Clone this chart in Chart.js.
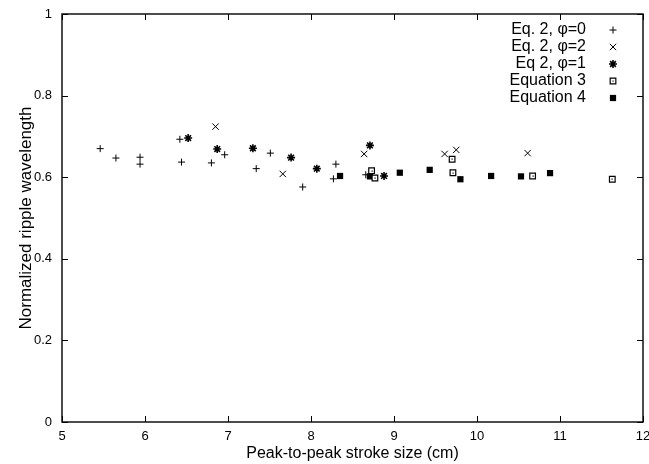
<!DOCTYPE html>
<html>
<head>
<meta charset="utf-8">
<script src="https://cdn.jsdelivr.net/npm/chart.js@4/dist/chart.umd.min.js"></script>
<style>
  html, body { margin: 0; padding: 0; background: #fff; }
  #wrap { width: 649px; height: 464px; }
</style>
</head>
<body>
<div id="wrap"><canvas id="chart"></canvas></div>
<script>
// series labels
const seriesNames = ['Eq. 2, \u03c6=0', 'Eq. 2, \u03c6=2', 'Eq 2, \u03c6=1', 'Equation 3', 'Equation 4'];

// Eq. 2, phi=0  (+)
const phi0X = [5.46, 5.65, 5.94, 5.94, 6.42, 6.44, 6.80, 6.96, 7.34, 7.51, 7.90, 8.30, 8.27, 8.66];
const phi0Y = [0.670, 0.647, 0.649, 0.632, 0.693, 0.637, 0.635, 0.655, 0.621, 0.659, 0.576, 0.632, 0.596, 0.606];

// Eq. 2, phi=2  (x)
const phi2X = [6.85, 7.66, 8.64, 9.61, 9.75, 10.61];
const phi2Y = [0.724, 0.608, 0.657, 0.657, 0.667, 0.659];

// Eq 2, phi=1  (star)
const phi1X = [6.52, 6.87, 7.30, 7.76, 8.07, 8.71, 8.88];
const phi1Y = [0.696, 0.669, 0.671, 0.648, 0.621, 0.678, 0.603];

// Equation 3  (open box)
const eq3X = [8.73, 8.77, 9.70, 9.71, 10.67, 11.63];
const eq3Y = [0.616, 0.598, 0.644, 0.611, 0.603, 0.595];

// Equation 4  (filled box)
const eq4X = [8.35, 8.71, 9.07, 9.43, 9.80, 10.17, 10.53, 10.88];
const eq4Y = [0.603, 0.602, 0.611, 0.618, 0.595, 0.603, 0.602, 0.610];

// axis ticks
const xTicks = [5, 6, 7, 8, 9, 10, 11, 12];
const yTicks = [0, 0.2, 0.4, 0.6, 0.8, 1];
const yTickLabels = ['0', '0.2', '0.4', '0.6', '0.8', '1'];

const FONT = '"Liberation Sans", Arial, Helvetica, sans-serif';

function pts(xs, ys) {
  return xs.map((x, i) => ({ x: x, y: ys[i] }));
}

const markStyles = [
  { pointStyle: 'cross', radius: 3.5, bg: '#000', border: '#000', bw: 1 },
  { pointStyle: 'crossRot', radius: 4.5, bg: '#000', border: '#000', bw: 1 },
  { pointStyle: 'star', radius: 4, bg: '#000', border: '#000', bw: 1.6 },
  { pointStyle: 'rect', radius: 4, bg: '#fff', border: '#000', bw: 1.2 },
  { pointStyle: 'rect', radius: 4.4, bg: '#000', border: '#000', bw: 0 }
];

const seriesData = [
  pts(phi0X, phi0Y),
  pts(phi2X, phi2Y),
  pts(phi1X, phi1Y),
  pts(eq3X, eq3Y),
  pts(eq4X, eq4Y)
];

const datasets = seriesData.map((d, i) => ({
  label: seriesNames[i],
  data: d,
  pointStyle: markStyles[i].pointStyle,
  pointRadius: markStyles[i].radius,
  pointHoverRadius: markStyles[i].radius,
  backgroundColor: markStyles[i].bg,
  borderColor: markStyles[i].border,
  borderWidth: markStyles[i].bw,
  showLine: false
}));

// gnuplot-like frame, inward ticks, box dots and key
const framePlugin = {
  id: 'frame',
  afterDatasetsDraw(chart) {
    const ctx = chart.ctx;
    const a = chart.chartArea;
    const xs = chart.scales.x;
    const ys = chart.scales.y;
    const tl = 6;

    // dot in the middle of the open boxes
    const meta = chart.getDatasetMeta(3);
    ctx.save();
    ctx.fillStyle = '#000';
    meta.data.forEach(el => {
      ctx.fillRect(Math.round(el.x) - 0.5, Math.round(el.y) - 0.5, 1.2, 1.2);
    });

    ctx.strokeStyle = '#000';
    ctx.lineWidth = 1.4;
    ctx.strokeRect(a.left, a.top, a.right - a.left, a.bottom - a.top);

    ctx.lineWidth = 1;
    ctx.beginPath();
    xTicks.forEach(v => {
      const px = Math.round(xs.getPixelForValue(v)) + 0.5;
      ctx.moveTo(px, a.bottom); ctx.lineTo(px, a.bottom - tl);
      ctx.moveTo(px, a.top); ctx.lineTo(px, a.top + tl);
    });
    yTicks.forEach(v => {
      const py = Math.round(ys.getPixelForValue(v)) + 0.5;
      ctx.moveTo(a.left, py); ctx.lineTo(a.left + tl, py);
      ctx.moveTo(a.right, py); ctx.lineTo(a.right - tl, py);
    });
    ctx.stroke();

    // key, top right, text right-aligned with sample to its right
    ctx.font = '16px ' + FONT;
    ctx.textAlign = 'right';
    ctx.textBaseline = 'middle';
    ctx.fillStyle = '#000';
    seriesNames.forEach((name, i) => {
      const y = a.top + 16 + i * 17;
      ctx.fillText(name, a.right - 57, y);
      const ms = markStyles[i];
      ctx.fillStyle = ms.bg;
      ctx.strokeStyle = ms.border;
      ctx.lineWidth = ms.bw;
      Chart.helpers.drawPoint(ctx, {
        pointStyle: ms.pointStyle, radius: ms.radius, rotation: 0, borderWidth: ms.bw
      }, a.right - 30, y);
      if (i === 3) {
        ctx.fillStyle = '#000';
        ctx.fillRect(a.right - 30.5, y - 0.5, 1.2, 1.2);
      }
      ctx.fillStyle = '#000';
    });
    ctx.restore();
  }
};

new Chart(document.getElementById('chart'), {
  type: 'scatter',
  data: { datasets: datasets },
  options: {
    responsive: true,
    maintainAspectRatio: false,
    animation: false,
    events: [],
    layout: { padding: { top: 14, right: 6, left: 0, bottom: 0 } },
    plugins: {
      legend: { display: false },
      tooltip: { enabled: false }
    },
    scales: {
      x: {
        type: 'linear',
        min: 5,
        max: 12,
        afterBuildTicks: s => { s.ticks = xTicks.map(v => ({ value: v })); },
        afterFit: s => { s.height = 42; s.paddingLeft = 0; s.paddingRight = 0; },
        grid: { display: false, drawTicks: false },
        border: { display: false },
        ticks: {
          color: '#000',
          padding: 7,
          maxRotation: 0,
          font: { family: FONT, size: 13 }
        },
        title: {
          display: true,
          text: 'Peak-to-peak stroke size (cm)',
          color: '#000',
          font: { family: FONT, size: 16 },
          padding: { top: 0, bottom: 1 }
        }
      },
      y: {
        type: 'linear',
        min: 0,
        max: 1,
        afterBuildTicks: s => { s.ticks = yTicks.map(v => ({ value: v })); },
        afterFit: s => { s.width = 62; s.paddingTop = 0; s.paddingBottom = 0; },
        grid: { display: false, drawTicks: false },
        border: { display: false },
        ticks: {
          color: '#000',
          padding: 10,
          font: { family: FONT, size: 13 },
          callback: (v, i) => yTickLabels[i]
        },
        title: {
          display: true,
          text: 'Normalized ripple wavelength',
          color: '#000',
          font: { family: FONT, size: 17 },
          padding: { top: 16, bottom: 0 }
        }
      }
    }
  },
  plugins: [framePlugin]
});
</script>
</body>
</html>
